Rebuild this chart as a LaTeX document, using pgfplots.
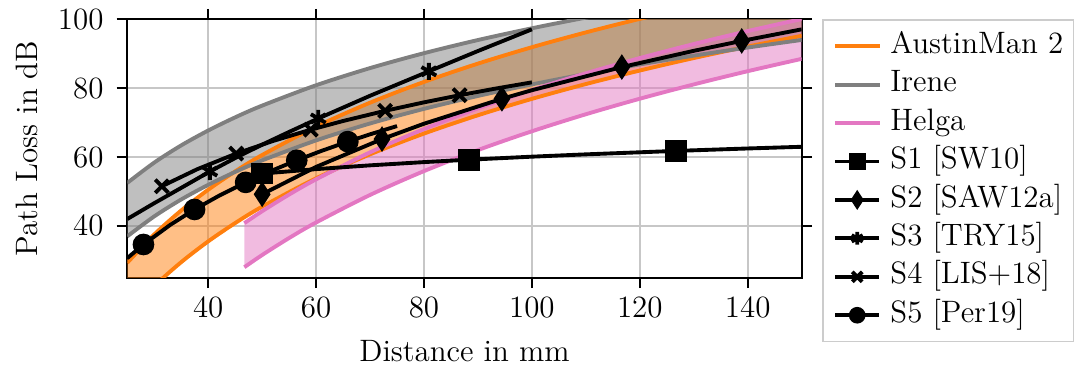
\documentclass[border=0pt]{standalone}
\usepackage{pgfplots}
\pgfplotsset{compat=1.18}
\usepgfplotslibrary{fillbetween}

\definecolor{amOrange}{HTML}{FF7F0E}
\definecolor{ireneGray}{HTML}{7F7F7F}
\definecolor{helgaPink}{HTML}{E377C2}

\newcommand{\labelfont}{\fontsize{12}{14}\selectfont}

\begin{document}
\begin{tikzpicture}
\begin{axis}[
  at={(49.34pt,35.42pt)}, anchor=south west,
  scale only axis, width=261.4pt, height=100.1pt,
  xmin=25, xmax=150, ymin=25, ymax=100,
  xtick={40,60,80,100,120,140}, ytick={40,60,80,100},
  tick align=outside, major tick length=4.1pt,
  axis line style={line width=0.8pt},
  every tick/.style={black, line width=0.8pt},
  grid=major, grid style={black!22, line width=0.8pt},
  xticklabel style={font=\labelfont, yshift=-0.2pt},
  yticklabel style={font=\labelfont, xshift=-1.6pt},
  xlabel={Distance in mm}, ylabel={Path Loss in dB},
  xlabel style={at={(axis description cs:0.5,0)}, anchor=base, yshift=-32.5pt, font=\labelfont},
  ylabel style={at={(axis description cs:-0.1335,0.5)}, anchor=base, font=\labelfont},
  legend cell align=left,
  legend image post style={line width=1.5pt, mark indices={2}, every mark/.append style={scale=0.75}},
  legend style={at={(1,1)}, anchor=north west, xshift=8pt,
    draw=black!20, line width=0.5pt, fill=white, font=\labelfont,
    inner xsep=4pt, inner ysep=4.4pt, row sep=3.4pt, column sep=3.6pt,
    nodes={inner sep=0pt, text height=8.5pt, text depth=3pt}},
  every axis plot/.append style={line width=1.5pt},
]

% AustinMan 2 band
\addplot[amOrange, smooth, name path=amU] coordinates {
 (25,29.29) (30,37.52) (35,44.48) (40,50.51) (45,55.83) (50,60.59) (60,68.83)
 (70,75.79) (80,81.82) (90,87.14) (100,91.90) (110,96.20) (120,100.13)
 (130,103.75) (140,107.10) (150,110.21)};
\addlegendentry{AustinMan 2}
\addplot[amOrange, smooth, name path=amL, forget plot] coordinates {
 (25,14.29) (30,22.52) (35,29.48) (40,35.51) (45,40.83) (50,45.59) (60,53.83)
 (70,60.79) (80,66.82) (90,72.14) (100,76.90) (110,81.20) (120,85.13)
 (130,88.75) (140,92.10) (150,95.21)};

% Irene band
\addplot[ireneGray, smooth, name path=irU] coordinates {
 (25,52.49) (30,58.39) (35,63.39) (40,67.71) (45,71.53) (50,74.94) (60,80.85)
 (70,85.84) (80,90.17) (90,93.99) (100,97.40) (110,100.49) (120,103.31)
 (130,105.90) (140,108.30) (150,110.54)};
\addlegendentry{Irene}
\addplot[ireneGray, smooth, name path=irL, forget plot] coordinates {
 (25,36.97) (30,42.77) (35,47.68) (40,51.93) (45,55.68) (50,59.03) (60,64.84)
 (70,69.75) (80,74.00) (90,77.75) (100,81.10) (110,84.13) (120,86.90)
 (130,89.45) (140,91.81) (150,94.01)};

% Helga band
\addplot[helgaPink, smooth, name path=heU] coordinates {
 (46.7,40.80) (50,44.27) (55,49.11) (60,53.53) (70,61.37) (80,68.15) (90,74.14)
 (100,79.49) (110,84.33) (120,88.75) (130,92.82) (140,96.59) (150,100.09)};
\addlegendentry{Helga}
\addplot[helgaPink, smooth, name path=heL, forget plot] coordinates {
 (46.7,28.00) (50,31.55) (55,36.49) (60,41.00) (70,48.99) (80,55.92) (90,62.03)
 (100,67.49) (110,72.43) (120,76.94) (130,81.09) (140,84.94) (150,88.52)};

\addplot[amOrange, fill opacity=0.5, draw=none, forget plot] fill between[of=amU and amL];
\addplot[ireneGray, fill opacity=0.5, draw=none, forget plot] fill between[of=irU and irL];
\addplot[helgaPink, fill opacity=0.5, draw=none, forget plot] fill between[of=heU and heL];

% S1 [SW10]
\addplot[black, mark=square*, mark size=3.9pt, mark indices={1,5,8},
  mark options={solid, line width=0.6pt}] coordinates {
 (50,55.20) (60,56.49) (70,57.59) (80,58.53) (88.33,59.23) (100,60.11)
 (110,60.78) (126.67,61.78) (140,62.49) (150,62.98)};
\addlegendentry{S1 [SW10]}

% S2 [SAW12a]
\addplot[black, mark=diamond*, mark size=4.45pt, mark indices={1,3,5,7,9},
  mark options={solid, line width=0.6pt, xscale=0.87}] coordinates {
 (50,49.19) (60,57.14) (72.22,65.22) (80,69.68) (94.44,76.92) (100,79.41)
 (116.67,86.13) (130,90.85) (138.89,93.73) (150,97.09)};
\addlegendentry{S2 [SAW12a]}

% S3 [TRY15]
\addplot[black, mark=asterisk, mark size=3.3pt, mark indices={4,8,10},
  mark options={solid, line width=1.5pt}] coordinates {
 (25,42.0) (30,46.6) (35,51.05) (40.3,55.8) (45,59.7) (50,63.6) (55,67.3)
 (60.4,71.2) (70,77.8) (80.9,84.9) (90,90.8) (100,97.1)};
\addlegendentry{S3 [TRY15]}

% S4 [LIS+18]
\addplot[black, mark=x, mark size=3.6pt, mark indices={1,3,5,7,9},
  mark options={solid, line width=1.5pt}] coordinates {
 (31.4,51.52) (38,56.49) (45.2,61.01) (52,64.66) (59.0,67.95) (65,70.47)
 (72.8,73.43) (80,75.89) (86.6,77.95) (93,79.81) (100,81.70)};
\addlegendentry{S4 [LIS+18]}

% S5 [Per19]
\addplot[black, mark=*, mark size=3.9pt, mark indices={2,4,6,8,10},
  mark options={solid, line width=0.6pt}] coordinates {
 (25,30.64) (28,34.60) (33,40.34) (37.47,44.78) (42,48.76) (46.94,52.64)
 (51,55.54) (56.41,59.06) (61,61.79) (65.88,64.48) (70,66.60) (75,69.00)};
\addlegendentry{S5 [Per19]}

\end{axis}
\pgfresetboundingbox
\path[use as bounding box] (0,0) rectangle (416.7pt,143pt);
\end{tikzpicture}
\end{document}
